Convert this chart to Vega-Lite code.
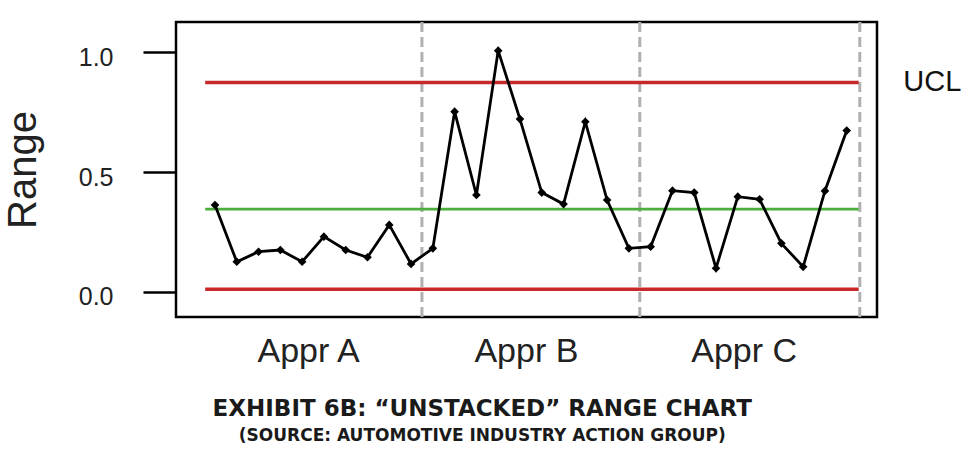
{
  "$schema": "https://vega.github.io/schema/vega-lite/v6.json",
  "width": 701,
  "height": 295,
  "autosize": {"type": "none"},
  "padding": {"left": 176, "top": 22, "right": 98, "bottom": 144},
  "background": "white",
  "config": {
    "view": {"stroke": "black", "strokeWidth": 2.5},
    "font": "Liberation Sans",
    "axisX": {
      "ticks": false,
      "domain": false,
      "grid": false,
      "labelFontSize": 34,
      "labelPadding": 17,
      "labelOffset": -5,
      "labelColor": "#222222",
      "labelFont": "Liberation Sans",
      "labelFlush": false
    },
    "axisY": {
      "titleFontSize": 40,
      "titleFontWeight": "normal",
      "titleFont": "Liberation Sans",
      "titleColor": "#222222",
      "titlePadding": 35,
      "labelFontSize": 25,
      "labelFont": "Liberation Sans",
      "labelColor": "#222222",
      "labelPadding": 30,
      "labelOffset": 5,
      "tickSize": 33,
      "tickWidth": 2.5,
      "tickColor": "black",
      "domain": false,
      "grid": false
    }
  },
  "title": {
    "text": "EXHIBIT 6B:  “UNSTACKED” RANGE CHART",
    "subtitle": "(SOURCE:  AUTOMOTIVE INDUSTRY ACTION GROUP)",
    "orient": "bottom",
    "anchor": "middle",
    "frame": "bounds",
    "font": "DejaVu Sans",
    "fontSize": 23,
    "fontWeight": "bold",
    "color": "#1a1a1a",
    "subtitleFont": "DejaVu Sans",
    "subtitleFontSize": 17,
    "subtitleFontWeight": "bold",
    "subtitleColor": "#1a1a1a",
    "subtitlePadding": 7,
    "offset": 30
  },
  "datasets": {
    "ranges": [
      {"i": 1, "appraiser": "A", "range": 0.362},
      {"i": 2, "appraiser": "A", "range": 0.125},
      {"i": 3, "appraiser": "A", "range": 0.167},
      {"i": 4, "appraiser": "A", "range": 0.174},
      {"i": 5, "appraiser": "A", "range": 0.125},
      {"i": 6, "appraiser": "A", "range": 0.230},
      {"i": 7, "appraiser": "A", "range": 0.174},
      {"i": 8, "appraiser": "A", "range": 0.144},
      {"i": 9, "appraiser": "A", "range": 0.279},
      {"i": 10, "appraiser": "A", "range": 0.116},
      {"i": 11, "appraiser": "B", "range": 0.181},
      {"i": 12, "appraiser": "B", "range": 0.752},
      {"i": 13, "appraiser": "B", "range": 0.404},
      {"i": 14, "appraiser": "B", "range": 1.007},
      {"i": 15, "appraiser": "B", "range": 0.721},
      {"i": 16, "appraiser": "B", "range": 0.414},
      {"i": 17, "appraiser": "B", "range": 0.366},
      {"i": 18, "appraiser": "B", "range": 0.710},
      {"i": 19, "appraiser": "B", "range": 0.383},
      {"i": 20, "appraiser": "B", "range": 0.181},
      {"i": 21, "appraiser": "C", "range": 0.188},
      {"i": 22, "appraiser": "C", "range": 0.422},
      {"i": 23, "appraiser": "C", "range": 0.414},
      {"i": 24, "appraiser": "C", "range": 0.098},
      {"i": 25, "appraiser": "C", "range": 0.397},
      {"i": 26, "appraiser": "C", "range": 0.386},
      {"i": 27, "appraiser": "C", "range": 0.202},
      {"i": 28, "appraiser": "C", "range": 0.104},
      {"i": 29, "appraiser": "C", "range": 0.421},
      {"i": 30, "appraiser": "C", "range": 0.673}
    ],
    "limits": [
      {"name": "UCL", "kind": "control", "from": 0.55, "to": 30.55, "value": 0.874},
      {"name": "Center", "kind": "center", "from": 0.55, "to": 30.55, "value": 0.345},
      {"name": "LCL", "kind": "control", "from": 0.55, "to": 30.55, "value": 0.01}
    ],
    "dividers": [
      {"at": 10.5},
      {"at": 20.5},
      {"at": 30.6}
    ],
    "labels": [
      {"label": "UCL", "at": 32.6, "value": 0.874}
    ]
  },
  "layer": [
    {
      "data": {"name": "dividers"},
      "mark": {"type": "rule", "color": "#b0b0b0", "strokeWidth": 3, "strokeDash": [10, 5]},
      "encoding": {
        "x": {
          "field": "at",
          "type": "quantitative",
          "scale": {"domain": [-0.79, 31.39], "nice": false, "zero": false},
          "axis": {"title": null, "values": [5.5, 15.5, 25.5], "labelExpr": "datum.value < 10 ? 'Appr A' : (datum.value < 20 ? 'Appr B' : 'Appr C')"}
        }
      }
    },
    {
      "data": {"name": "limits"},
      "mark": {"type": "rule"},
      "encoding": {
        "x": {
          "field": "from",
          "type": "quantitative",
          "scale": {"domain": [-0.79, 31.39], "nice": false, "zero": false},
          "axis": {"title": null, "values": [5.5, 15.5, 25.5], "labelExpr": "datum.value < 10 ? 'Appr A' : (datum.value < 20 ? 'Appr B' : 'Appr C')"}
        },
        "x2": {"field": "to"},
        "y": {
          "field": "value",
          "type": "quantitative",
          "scale": {"domain": [-0.1057, 1.1266], "nice": false, "zero": false},
          "axis": {"title": "Range", "values": [0, 0.5, 1], "format": ".1f"}
        },
        "color": {
          "field": "kind",
          "type": "nominal",
          "scale": {"domain": ["control", "center"], "range": ["#c8282a", "#4caf3c"]},
          "legend": null
        },
        "strokeWidth": {
          "field": "kind",
          "type": "ordinal",
          "scale": {"domain": ["control", "center"], "range": [3.5, 2.6]},
          "legend": null
        }
      }
    },
    {
      "data": {"name": "ranges"},
      "mark": {"type": "line", "color": "black", "strokeWidth": 2.8},
      "encoding": {
        "x": {
          "field": "i",
          "type": "quantitative",
          "scale": {"domain": [-0.79, 31.39], "nice": false, "zero": false},
          "axis": {"title": null, "values": [5.5, 15.5, 25.5], "labelExpr": "datum.value < 10 ? 'Appr A' : (datum.value < 20 ? 'Appr B' : 'Appr C')"}
        },
        "y": {
          "field": "range",
          "type": "quantitative",
          "scale": {"domain": [-0.1057, 1.1266], "nice": false, "zero": false},
          "axis": {"title": "Range", "values": [0, 0.5, 1], "format": ".1f"}
        }
      }
    },
    {
      "data": {"name": "ranges"},
      "mark": {"type": "point", "shape": "diamond", "filled": true, "color": "black", "size": 75, "opacity": 1},
      "encoding": {
        "x": {
          "field": "i",
          "type": "quantitative",
          "scale": {"domain": [-0.79, 31.39], "nice": false, "zero": false},
          "axis": {"title": null, "values": [5.5, 15.5, 25.5], "labelExpr": "datum.value < 10 ? 'Appr A' : (datum.value < 20 ? 'Appr B' : 'Appr C')"}
        },
        "y": {
          "field": "range",
          "type": "quantitative",
          "scale": {"domain": [-0.1057, 1.1266], "nice": false, "zero": false},
          "axis": {"title": "Range", "values": [0, 0.5, 1], "format": ".1f"}
        }
      }
    },
    {
      "data": {"name": "labels"},
      "mark": {"type": "text", "align": "left", "baseline": "middle", "fontSize": 29, "font": "Liberation Sans", "color": "#111111"},
      "encoding": {
        "x": {
          "field": "at",
          "type": "quantitative",
          "scale": {"domain": [-0.79, 31.39], "nice": false, "zero": false},
          "axis": {"title": null, "values": [5.5, 15.5, 25.5], "labelExpr": "datum.value < 10 ? 'Appr A' : (datum.value < 20 ? 'Appr B' : 'Appr C')"}
        },
        "y": {
          "field": "value",
          "type": "quantitative",
          "scale": {"domain": [-0.1057, 1.1266], "nice": false, "zero": false},
          "axis": {"title": "Range", "values": [0, 0.5, 1], "format": ".1f"}
        },
        "text": {"field": "label"}
      }
    }
  ]
}
